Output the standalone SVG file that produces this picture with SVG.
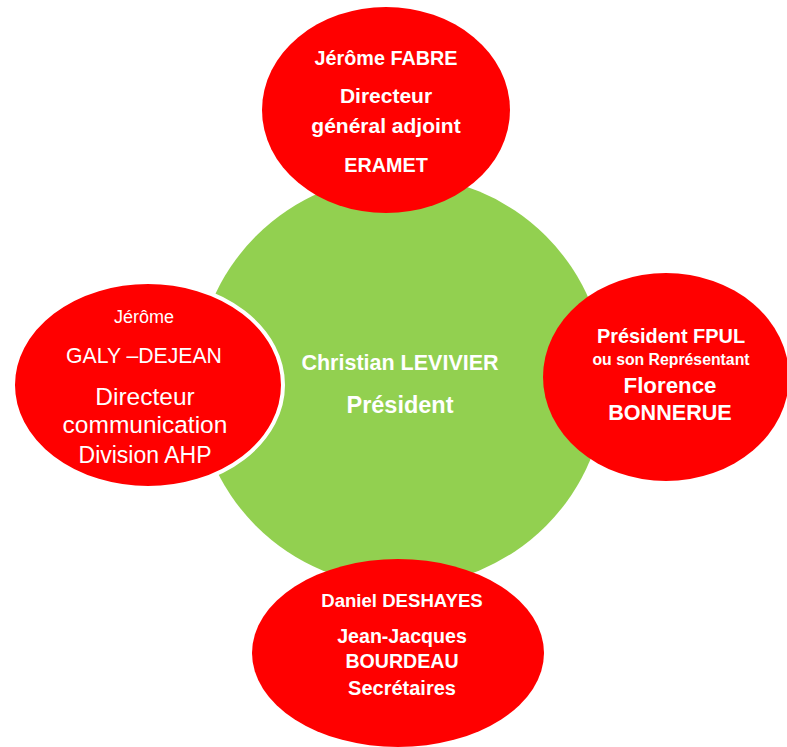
<svg xmlns="http://www.w3.org/2000/svg" width="787" height="747" viewBox="0 0 787 747">
<style>
.red{fill:#FF0000}
.t{font-family:"Liberation Sans",Arial,sans-serif;fill:#FFFFFF;text-anchor:middle}
.b{font-weight:bold}
</style>
<rect x="0" y="0" width="787" height="747" fill="#FFFFFF"/>
<g id="center">
<circle cx="401" cy="381" r="205" fill="#92D050"/>
<text class="t b" x="400" y="370" font-size="21.5">Christian LEVIVIER</text>
<text class="t b" x="400" y="413" font-size="23.5">Président</text>
</g>
<g id="top">
<ellipse class="red" cx="386" cy="110" rx="124" ry="103"/>
<text class="t b" x="386" y="65" font-size="19.8">Jérôme FABRE</text>
<text class="t b" x="386" y="103" font-size="21">Directeur</text>
<text class="t b" x="386" y="133" font-size="21">général adjoint</text>
<text class="t b" x="386" y="172" font-size="19.8">ERAMET</text>
</g>
<g id="left">
<ellipse class="red" cx="148" cy="385" rx="135" ry="103" stroke="#FFFFFF" stroke-width="4"/>
<text class="t" x="144" y="323" font-size="18">Jérôme</text>
<text class="t" x="144" y="363" font-size="21.2">GALY –DEJEAN</text>
<text class="t" x="145" y="405" font-size="24.5">Directeur</text>
<text class="t" x="145" y="433" font-size="24.5">communication</text>
<text class="t" x="145" y="463" font-size="23">Division AHP</text>
</g>
<g id="right">
<ellipse class="red" cx="666" cy="377" rx="123" ry="104"/>
<text class="t b" x="671" y="343" font-size="19.9">Président FPUL</text>
<text class="t b" x="671" y="365" font-size="15.8">ou son Représentant</text>
<text class="t b" x="670" y="393" font-size="22.3">Florence</text>
<text class="t b" x="670" y="420" font-size="21.6">BONNERUE</text>
</g>
<g id="bottom">
<ellipse class="red" cx="398" cy="653" rx="146" ry="94"/>
<text class="t b" x="402" y="607" font-size="18.6">Daniel DESHAYES</text>
<text class="t b" x="402" y="643" font-size="19.6">Jean-Jacques</text>
<text class="t b" x="402" y="668" font-size="19.6">BOURDEAU</text>
<text class="t b" x="402" y="695" font-size="20">Secrétaires</text>
</g>
</svg>
